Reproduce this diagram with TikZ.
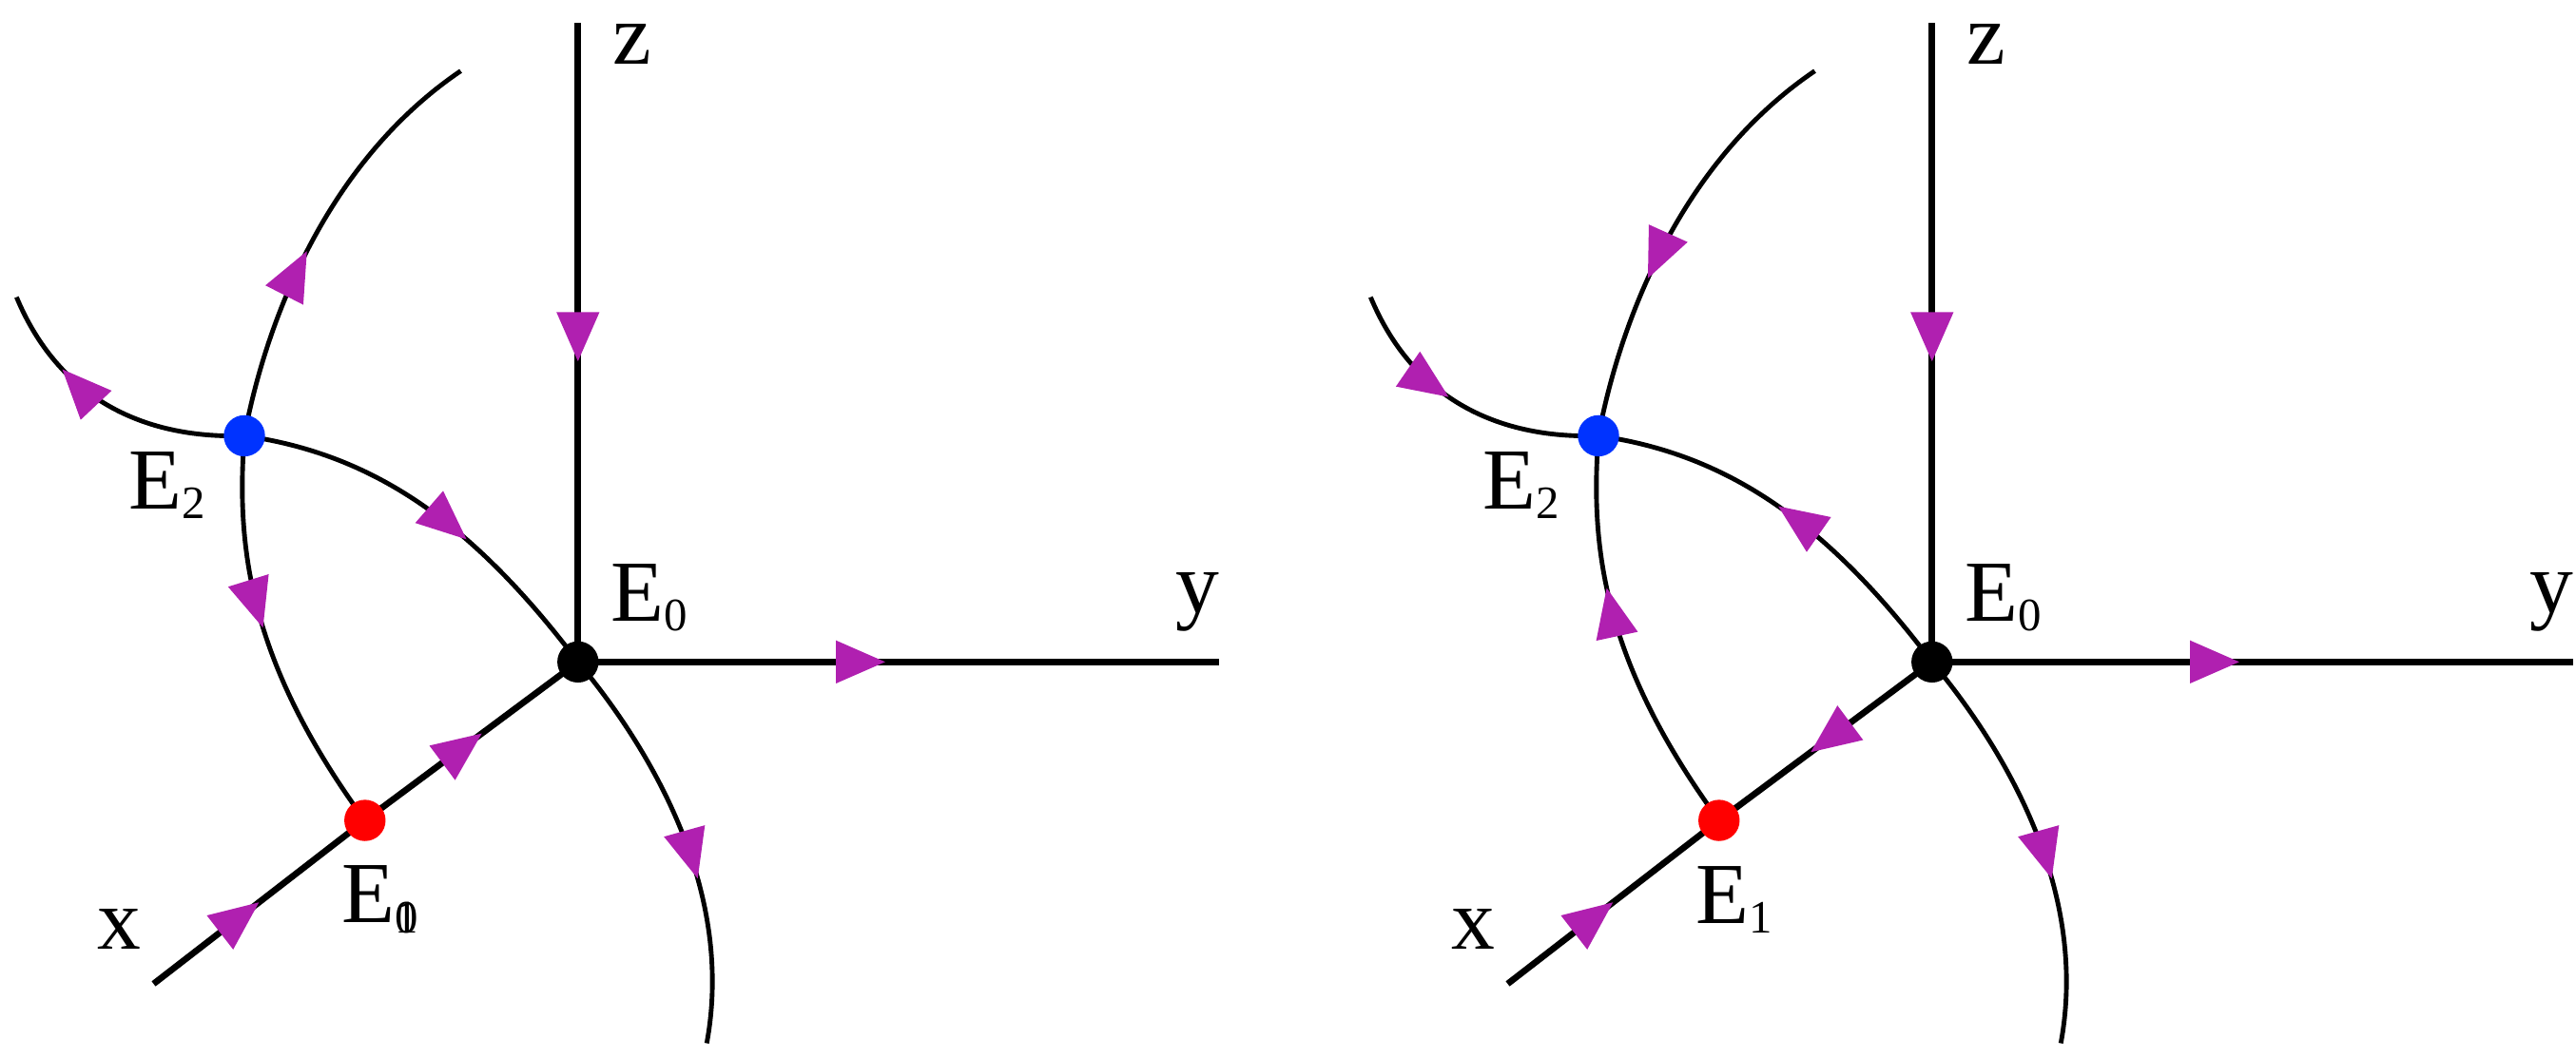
\documentclass[tikz,border=0pt]{standalone}
\usepackage{fontspec}
\setmainfont{Liberation Serif}
\usetikzlibrary{arrows.meta,decorations.markings}
\definecolor{mag}{RGB}{176,32,176}
\tikzset{
  ax/.style={line width=1.1pt},
  cv/.style={line width=0.8pt},
  fw/.style={postaction={decorate,decoration={markings,mark=at position #1 with {\arrow{Triangle[length=0.3cm,width=0.25cm,color=mag]}}}}},
  bw/.style={postaction={decorate,decoration={markings,mark=at position #1 with {\arrowreversed{Triangle[length=0.3cm,width=0.25cm,color=mag]}}}}},
  dot/.style={circle,inner sep=0pt,minimum size=0.25cm},
  lab/.style={font=\fontsize{15}{17}\selectfont,inner sep=0pt}
}
\newcommand{\sbs}[1]{\raisebox{-0.25ex}{\fontsize{8}{9}\selectfont #1}}
\newcommand{\panel}[8]{%
\begin{scope}[xshift=#1cm]
  \coordinate (O) at (3.50,-4.01);
  \coordinate (E1) at (2.21,-4.97);
  \coordinate (E2) at (1.48,-2.64);
  \coordinate (Z) at (3.50,-0.14);
  \coordinate (Y) at (7.38,-4.01);
  \coordinate (X) at (0.93,-5.96);
  \coordinate (UR) at (2.79,-0.43);
  \coordinate (UL) at (0.10,-1.80);
  \coordinate (B) at (4.28,-6.32);
  \draw[ax,fw=0.53] (Z) -- (O);
  \draw[ax,fw=0.48] (O) -- (Y);
  \draw[ax,fw=0.5] (X) -- (E1);
  \draw[ax,#2] (E1) -- (O);
  \draw[cv,fw=0.6] (O) .. controls (3.95,-4.55) and (4.45,-5.40) .. (B);
  \draw[cv,#3] (E2) .. controls (2.25,-2.75) and (2.85,-3.15) .. (O);
  \draw[cv,#4] (E2) .. controls (1.43,-3.30) and (1.50,-4.00) .. (E1);
  \draw[cv,#5] (E2) .. controls (1.60,-2.00) and (1.95,-1.00) .. (UR);
  \draw[cv,#6] (E2) .. controls (0.85,-2.66) and (0.35,-2.40) .. (UL);
  \node[dot,fill=black] (n0) at (O) {};
  \node[dot,fill=red] (n1) at (E1) {};
  \node[dot,fill={rgb,255:red,0;green,51;blue,255}] (n2) at (E2) {};
  \node[lab] (lz) at (3.83,-0.27) {z};
  \node[lab] (ly) at (7.25,-3.65) {y};
  \node[lab] (lx) at (0.72,-5.63) {x};
  \node[lab] (l0) at (3.93,-3.62) {E\sbs{0}};
  \node[lab] (l2) at (1.01,-2.94) {E\sbs{2}};
  \node[lab] (l1) at (2.30,-5.45) {E\sbs{#7}};
\end{scope}}
\begin{document}
\begin{tikzpicture}
\useasboundingbox (0,0) rectangle (15.6,-6.408);
\panel{0}{fw=0.55}{fw=0.6}{fw=0.47}{fw=0.45}{fw=0.7}{\rlap{0}1}{}
\panel{8.2}{bw=0.43}{bw=0.47}{bw=0.37}{bw=0.38}{bw=0.55}{1}{}
\end{tikzpicture}
\end{document}
